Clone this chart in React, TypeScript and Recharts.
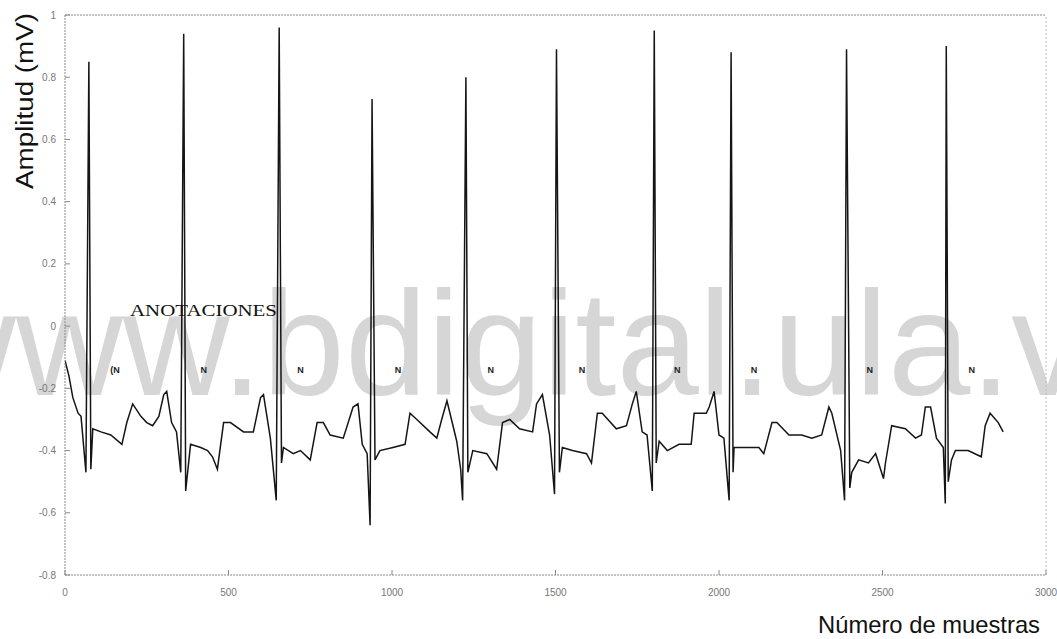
import React from "react";
import {
  ComposedChart,
  Line,
  Scatter,
  XAxis,
  YAxis,
  ReferenceLine,
} from "recharts";

// ECG trace (sample index, amplitude in mV)
const samples = [
  0, 12, 24, 40, 49, 64, 73, 79, 85, 110,
  140, 174, 189, 207, 232, 250, 268, 287, 302, 311,
  326, 341, 354, 363, 369, 384, 415, 436, 451, 466,
  485, 506, 546, 576, 598, 607, 628, 646, 655, 662,
  668, 698, 720, 750, 771, 790, 811, 851, 881, 896,
  909, 924, 933, 939, 948, 963, 1003, 1040, 1055, 1076,
  1116, 1137, 1152, 1168, 1198, 1210, 1216, 1226, 1232, 1247,
  1290, 1320, 1338, 1360, 1390, 1430, 1442, 1460, 1482, 1497,
  1503, 1512, 1521, 1552, 1595, 1610, 1628, 1643, 1686, 1717,
  1735, 1747, 1765, 1780, 1796, 1802, 1808, 1817, 1842, 1878,
  1915, 1924, 1961, 1970, 1985, 2000, 2015, 2031, 2037, 2043,
  2046, 2082, 2122, 2137, 2162, 2177, 2214, 2253, 2284, 2314,
  2336, 2345, 2372, 2384, 2390, 2400, 2406, 2427, 2457, 2479,
  2503, 2509, 2528, 2570, 2601, 2619, 2631, 2647, 2665, 2686,
  2692, 2695, 2701, 2711, 2723, 2762, 2802, 2814, 2829, 2854,
  2869,
];

const amplitude = [
  -0.11, -0.16, -0.23, -0.28, -0.29, -0.47, 0.85, -0.46, -0.33, -0.34,
  -0.35, -0.38, -0.31, -0.25, -0.29, -0.31, -0.32, -0.29, -0.22, -0.21,
  -0.31, -0.34, -0.47, 0.94, -0.53, -0.38, -0.39, -0.4, -0.42, -0.46,
  -0.31, -0.31, -0.34, -0.34, -0.23, -0.22, -0.36, -0.56, 0.96, -0.44,
  -0.39, -0.41, -0.4, -0.43, -0.31, -0.31, -0.35, -0.36, -0.26, -0.25,
  -0.38, -0.41, -0.64, 0.73, -0.43, -0.4, -0.39, -0.38, -0.28, -0.3,
  -0.34, -0.36, -0.3, -0.24, -0.37, -0.46, -0.56, 0.8, -0.47, -0.4,
  -0.41, -0.46, -0.31, -0.3, -0.33, -0.34, -0.25, -0.22, -0.35, -0.54,
  0.89, -0.47, -0.39, -0.4, -0.41, -0.44, -0.28, -0.28, -0.33, -0.32,
  -0.25, -0.21, -0.34, -0.35, -0.53, 0.95, -0.44, -0.37, -0.4, -0.38,
  -0.38, -0.28, -0.28, -0.26, -0.21, -0.35, -0.36, -0.56, 0.88, -0.47,
  -0.39, -0.39, -0.39, -0.41, -0.31, -0.31, -0.35, -0.35, -0.36, -0.35,
  -0.26, -0.28, -0.4, -0.56, 0.89, -0.52, -0.47, -0.43, -0.44, -0.41,
  -0.49, -0.44, -0.32, -0.33, -0.36, -0.35, -0.26, -0.26, -0.36, -0.39,
  -0.57, 0.9, -0.5, -0.43, -0.4, -0.4, -0.42, -0.32, -0.28, -0.31,
  -0.34,
];

// beat annotations
const annotationSamples = [153, 424, 720, 1018, 1302, 1581, 1872, 2107, 2461, 2773];
const annotationLabels = ["(N", "N", "N", "N", "N", "N", "N", "N", "N", "N"];
const annotationLevel = -0.14;

const xTicks = [0, 500, 1000, 1500, 2000, 2500, 3000];
const yTicks = [-0.8, -0.6, -0.4, -0.2, 0, 0.2, 0.4, 0.6, 0.8, 1];

const ecgData = samples.map((s, i) => ({ s, v: amplitude[i] }));
const annotationData = annotationSamples.map((s, i) => ({
  s,
  v: annotationLevel,
  label: annotationLabels[i],
}));

const W = 1057;
const H = 639;
const axisColor = "#8a8a8a";
const tickFont = { fill: "#777", fontSize: 10, fontFamily: "Liberation Sans" };

const AnnotationMark = (props: any) => {
  const { cx, cy, payload } = props;
  return (
    <text
      x={cx}
      y={cy}
      textAnchor="middle"
      dominantBaseline="central"
      fontSize={9}
      fontWeight="bold"
      fontFamily="Liberation Sans"
      fill="#222"
    >
      {payload.label}
    </text>
  );
};

export default function App() {
  return (
    <div
      style={{
        position: "absolute",
        left: 0,
        top: 0,
        width: W,
        height: H,
        background: "#fff",
        overflow: "hidden",
      }}
    >
      {/* background layer: watermark + titles */}
      <svg
        width={W}
        height={H}
        style={{ position: "absolute", left: 0, top: 0 }}
      >
        <text
          x={-91}
          y={395}
          fontSize={148}
          fontFamily="Liberation Sans"
          fill="#d6d6d6"
        >
          www.bdigital.ula.ve
        </text>
        <text
          transform="translate(25,101) rotate(-90)"
          textAnchor="middle"
          dominantBaseline="central"
          fontSize={23}
          fontFamily="Liberation Sans"
          textLength={176}
          lengthAdjust="spacingAndGlyphs"
          fill="#111"
        >
          Amplitud (mV)
        </text>
        <text
          x={818}
          y={633}
          fontSize={24}
          fontFamily="Liberation Sans"
          textLength={222}
          lengthAdjust="spacingAndGlyphs"
          fill="#111"
        >
          Número de muestras
        </text>
        <text
          x={130}
          y={316}
          fontSize={16}
          fontFamily="Liberation Serif"
          textLength={147}
          lengthAdjust="spacingAndGlyphs"
          fill="#111"
        >
          ANOTACIONES
        </text>
      </svg>

      <ComposedChart
        width={W}
        height={H}
        margin={{ top: 15, right: 11, bottom: 34, left: 5 }}
        style={{ position: "absolute", left: 0, top: 0 }}
      >
        <XAxis
          dataKey="s"
          type="number"
          domain={[0, 3000]}
          ticks={xTicks}
          height={30}
          stroke={axisColor}
          axisLine={{ stroke: axisColor, strokeDasharray: "2 1" }}
          tickLine={{ stroke: axisColor }}
          tickSize={-5}
          tickMargin={19}
          tick={tickFont}
          allowDataOverflow
        />
        <YAxis
          dataKey="v"
          type="number"
          domain={[-0.8, 1]}
          ticks={yTicks}
          width={60}
          stroke={axisColor}
          axisLine={{ stroke: axisColor, strokeDasharray: "2 1" }}
          tickLine={{ stroke: axisColor }}
          tickSize={-5}
          tickMargin={14}
          tick={tickFont}
          tickFormatter={(t: number) => `${Math.round(t * 10) / 10}`}
          allowDataOverflow
        />
        <ReferenceLine y={1} stroke={axisColor} strokeDasharray="2 1" />
        <ReferenceLine x={3000} stroke="#bdbdbd" strokeDasharray="2 2" />
        <Line
          data={ecgData}
          dataKey="v"
          type="linear"
          stroke="#151515"
          strokeWidth={1.5}
          dot={false}
          activeDot={false}
          isAnimationActive={false}
        />
        <Scatter
          data={annotationData}
          dataKey="v"
          shape={AnnotationMark}
          isAnimationActive={false}
        />
      </ComposedChart>
    </div>
  );
}
